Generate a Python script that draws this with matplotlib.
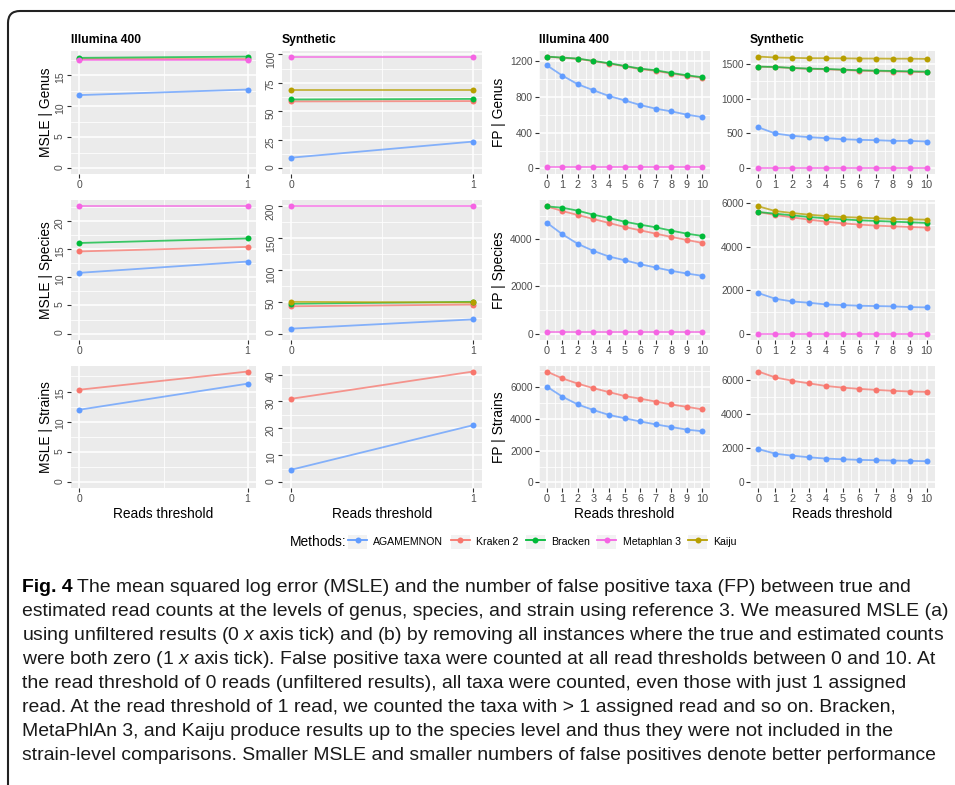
import matplotlib
matplotlib.use('Agg')
import matplotlib.pyplot as plt
import matplotlib.transforms as mtransforms
from matplotlib.lines import Line2D
from matplotlib.patches import Rectangle, FancyBboxPatch
from matplotlib.legend_handler import HandlerTuple
from matplotlib.ticker import MultipleLocator

plt.rcParams['font.family'] = ['Liberation Sans', 'DejaVu Sans']
plt.rcParams['mathtext.fontset'] = 'custom'
plt.rcParams['mathtext.it'] = 'Liberation Sans:italic'
plt.rcParams['mathtext.rm'] = 'Liberation Sans'

methods = ['AGAMEMNON', 'Kraken 2', 'Bracken', 'Metaphlan 3', 'Kaiju']
colors = ['#619CFF', '#F8766D', '#00BA38', '#F564E3', '#B79F00']

msle_x = [0, 1]
fp_x = [0, 1, 2, 3, 4, 5, 6, 7, 8, 9, 10]

# MSLE values (threshold 0 and 1)
msle_genus_illumina = {
    'AGAMEMNON': [11.8, 12.7], 'Kraken 2': [17.6, 17.6],
    'Bracken': [17.8, 18.0], 'Metaphlan 3': [17.4, 17.4]}
msle_genus_synthetic = {
    'AGAMEMNON': [9.4, 23.5], 'Kraken 2': [58.7, 59.0], 'Bracken': [60.4, 60.9],
    'Metaphlan 3': [98.0, 98.0], 'Kaiju': [68.3, 68.3]}
msle_species_illumina = {
    'AGAMEMNON': [10.8, 12.8], 'Kraken 2': [14.6, 15.4],
    'Bracken': [16.1, 16.9], 'Metaphlan 3': [22.6, 22.6]}
msle_species_synthetic = {
    'AGAMEMNON': [7.8, 22.4], 'Kraken 2': [43.0, 45.7], 'Bracken': [47.0, 50.0],
    'Metaphlan 3': [200.0, 200.0], 'Kaiju': [50.0, 49.0]}
msle_strains_illumina = {'AGAMEMNON': [12.0, 16.3], 'Kraken 2': [15.3, 18.3]}
msle_strains_synthetic = {'AGAMEMNON': [4.7, 21.2], 'Kraken 2': [31.0, 41.1]}

# false positives at read thresholds 0..10
fp_genus_illumina = {
    'AGAMEMNON': [1155, 1039, 942, 875, 811, 762, 710, 669, 639, 602, 575],
    'Kraken 2': [1250, 1238, 1226, 1200, 1173, 1143, 1112, 1092, 1062, 1036, 1015],
    'Bracken': [1252, 1241, 1230, 1204, 1178, 1148, 1118, 1099, 1069, 1043, 1021],
    'Metaphlan 3': [12, 12, 12, 12, 12, 12, 12, 12, 12, 12, 12]}
fp_genus_synthetic = {
    'AGAMEMNON': [587, 500, 467, 447, 433, 418, 409, 404, 394, 394, 385],
    'Kraken 2': [1455, 1450, 1435, 1424, 1418, 1408, 1398, 1392, 1386, 1381, 1376],
    'Bracken': [1457, 1452, 1438, 1428, 1423, 1414, 1404, 1399, 1394, 1389, 1385],
    'Metaphlan 3': [2, 2, 2, 2, 2, 2, 2, 2, 2, 2, 2],
    'Kaiju': [1600, 1587, 1582, 1577, 1577, 1575, 1572, 1572, 1570, 1570, 1567]}
fp_species_illumina = {
    'AGAMEMNON': [4704, 4211, 3803, 3507, 3268, 3113, 2944, 2803, 2662, 2549, 2451],
    'Kraken 2': [5394, 5197, 5027, 4859, 4690, 4521, 4380, 4239, 4099, 3972, 3845],
    'Bracken': [5394, 5337, 5211, 5041, 4901, 4746, 4620, 4507, 4366, 4239, 4141],
    'Metaphlan 3': [84, 84, 84, 84, 84, 84, 84, 84, 84, 84, 84]}
fp_species_synthetic = {
    'AGAMEMNON': [1867, 1607, 1484, 1423, 1346, 1316, 1285, 1270, 1255, 1224, 1209],
    'Kraken 2': [5602, 5464, 5358, 5250, 5159, 5082, 5021, 4975, 4944, 4914, 4883],
    'Bracken': [5602, 5526, 5449, 5373, 5312, 5266, 5220, 5190, 5159, 5128, 5098],
    'Metaphlan 3': [5, 5, 5, 5, 5, 5, 5, 5, 5, 5, 5],
    'Kaiju': [5862, 5648, 5556, 5480, 5419, 5373, 5342, 5312, 5281, 5266, 5250]}
fp_strains_illumina = {
    'AGAMEMNON': [6018, 5384, 4892, 4544, 4237, 4033, 3828, 3644, 3480, 3316, 3214],
    'Kraken 2': [6960, 6530, 6202, 5916, 5670, 5425, 5261, 5077, 4892, 4749, 4585]}
fp_strains_synthetic = {
    'AGAMEMNON': [1955, 1687, 1572, 1476, 1399, 1361, 1323, 1304, 1284, 1265, 1246],
    'Kraken 2': [6499, 6154, 5962, 5808, 5655, 5559, 5483, 5425, 5368, 5329, 5310]}

msle_yticks = [[0, 5, 10, 15], [0, 25, 50, 75, 100],
               [0, 5, 10, 15, 20], [0, 50, 100, 150, 200],
               [0, 5, 10, 15], [0, 10, 20, 30, 40]]
fp_yticks = [[0, 400, 800, 1200], [0, 500, 1000, 1500],
             [0, 2000, 4000], [0, 2000, 4000, 6000],
             [0, 2000, 4000, 6000], [0, 2000, 4000, 6000]]
levels = ['Genus', 'Species', 'Strains']
datasets = ['Illumina 400', 'Synthetic']

caption_label = 'Fig. 4'
caption_lines = [
    'The mean squared log error (MSLE) and the number of false positive taxa (FP) between true and',
    'estimated read counts at the levels of genus, species, and strain using reference 3. We measured MSLE (a)',
    'using unfiltered results (0 $x$ axis tick) and (b) by removing all instances where the true and estimated counts',
    'were both zero (1 $x$ axis tick). False positive taxa were counted at all read thresholds between 0 and 10. At',
    'the read threshold of 0 reads (unfiltered results), all taxa were counted, even those with just 1 assigned',
    'read. At the read threshold of 1 read, we counted the taxa with > 1 assigned read and so on. Bracken,',
    'MetaPhlAn 3, and Kaiju produce results up to the species level and thus they were not included in the',
    'strain-level comparisons. Smaller MSLE and smaller numbers of false positives denote better performance',
]

W, H = 955, 785
fig = plt.figure(figsize=(W / 100, H / 100), dpi=100)

rows_px = [(51, 174), (200, 340), (366, 488)]
msle_cols_px = [(71, 256), (282, 482)]
fp_cols_px = [(539, 710), (750, 935)]


def add_panel(x0, x1, y0, y1, data, xs, yticks, rotate):
    ax = fig.add_axes([x0 / W, 1 - y1 / H, (x1 - x0) / W, (y1 - y0) / H])
    ax.set_facecolor('#EBEBEB')
    for name, color in zip(methods, colors):
        if name not in data:
            continue
        ax.plot(xs, data[name], color=color, lw=1.3, alpha=0.75, zorder=3)
        ax.plot(xs, data[name], 'o', color=color, ms=4.3, mec='none', zorder=4)
    vals = [v for ys in data.values() for v in ys]
    lo, hi = min(0, min(vals)), max(vals)
    ax.set_ylim(lo - 0.05 * (hi - lo), hi + 0.05 * (hi - lo))
    span = xs[-1] - xs[0]
    ax.set_xlim(xs[0] - 0.05 * span, xs[-1] + 0.05 * span)
    ax.set_yticks(yticks)
    ax.yaxis.set_minor_locator(MultipleLocator((yticks[1] - yticks[0]) / 2))
    ax.set_xticks(xs)
    ax.xaxis.set_minor_locator(MultipleLocator(0.5))
    ax.grid(True, which='major', color='white', lw=1.1)
    ax.grid(True, which='minor', color='white', lw=0.55)
    ax.set_axisbelow(True)
    for s in ax.spines.values():
        s.set_visible(False)
    ax.tick_params(which='major', length=3, width=0.8, color='#333333',
                   labelcolor='#4D4D4D', pad=1.5)
    ax.tick_params(which='minor', length=0)
    if rotate:
        ax.tick_params(axis='both', labelsize=7.5)
        ax.tick_params(axis='y', labelrotation=90)
    else:
        ax.tick_params(axis='y', labelsize=7.3)
        ax.tick_params(axis='x', labelsize=7.8)
    return ax


msle_data = [[msle_genus_illumina, msle_genus_synthetic],
             [msle_species_illumina, msle_species_synthetic],
             [msle_strains_illumina, msle_strains_synthetic]]
fp_data = [[fp_genus_illumina, fp_genus_synthetic],
           [fp_species_illumina, fp_species_synthetic],
           [fp_strains_illumina, fp_strains_synthetic]]

for r, (y0, y1) in enumerate(rows_px):
    for c in range(2):
        for kind, cols, data, xs, ticks, rot in (
                ('MSLE', msle_cols_px, msle_data, msle_x, msle_yticks, True),
                ('FP', fp_cols_px, fp_data, fp_x, fp_yticks, False)):
            x0, x1 = cols[c]
            ax = add_panel(x0, x1, y0, y1, data[r][c], xs, ticks[2 * r + c], rot)
            if r == 0:
                ax.set_title(datasets[c], loc='left', fontweight='bold',
                             fontsize=8.7, pad=6)
            if r == 2:
                ax.set_xlabel('Reads threshold', fontsize=9.9, labelpad=2)
            if c == 0:
                lx = 46 if kind == 'MSLE' else 499
                fig.text(lx / W, 1 - (y0 + y1) / 2 / H, f'{kind} | {levels[r]}',
                         rotation=90, ha='center', va='center', fontsize=9.9)

# legend
handles = [(Rectangle((0, 0), 1, 1, fc='#F2F2F2', ec='none'),
            Line2D([], [], color=c, lw=1.3, marker='o', ms=4.3, mec='none'))
           for c in colors]
fig.text(290 / W, 1 - 542 / H, 'Methods:', ha='left', va='center', fontsize=9.9)
fig.legend(handles, methods, handler_map={tuple: HandlerTuple()},
           loc='center left', bbox_to_anchor=(348 / W, 1 - 542 / H),
           ncol=5, frameon=False, fontsize=7.6, borderpad=0, borderaxespad=0,
           handlelength=1.8, handleheight=1.6, handletextpad=0.6,
           columnspacing=0.7)

# caption: size chosen so the longest line fills the frame width
cap_font = ['Liberation Sans', 'DejaVu Sans']
renderer = fig.canvas.get_renderer()
probe = fig.text(0, 0, caption_lines[2], family=cap_font, fontsize=14)
cap_size = 14 * 928 / probe.get_window_extent(renderer).width
probe.remove()
for i, line in enumerate(caption_lines):
    y = 1 - (588 + 24 * i) / H
    x = 22 / W
    if i == 0:
        t = fig.text(x, y, caption_label, family=cap_font, fontweight='bold',
                     fontsize=cap_size, va='center', ha='left')
        x += (t.get_window_extent(renderer).width + 4) / W
    fig.text(x, y, line, family=cap_font, fontsize=cap_size, va='center',
             ha='left', color='#1a1a1a')

# rounded frame, open to the right and bottom
frame = FancyBboxPatch((8, -60), 1000, H - 11 + 60,
                       boxstyle='round,pad=0,rounding_size=12',
                       transform=mtransforms.IdentityTransform(),
                       fill=False, ec='#222222', lw=1.5)
fig.add_artist(frame)

fig.savefig('out.png', dpi=100)
